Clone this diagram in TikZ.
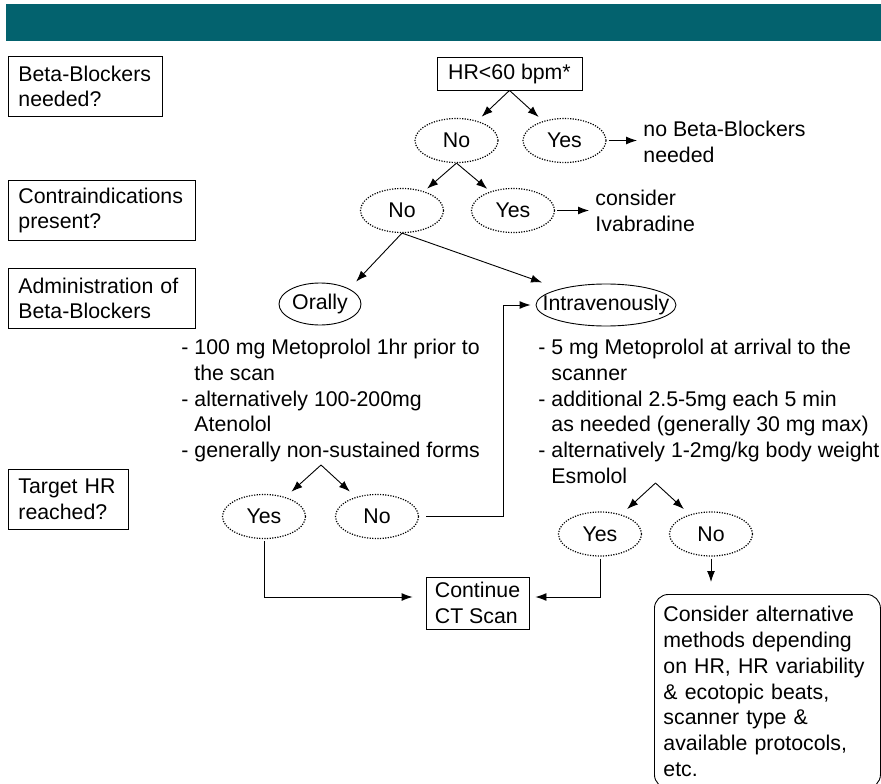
\documentclass[tikz,border=0pt]{standalone}
\usepackage{fontspec}
\setmainfont{Liberation Sans}
\usetikzlibrary{shapes.geometric,arrows.meta}
\definecolor{banner}{RGB}{3,98,110}
\newcommand{\dosecont}{\hphantom{-\ }}

\begin{document}
\begin{tikzpicture}[x=1pt, y=-1pt, line width=0.9pt,
  >={Latex[length=11pt,width=8pt]},
  every node/.style={font=\fontsize{21.3}{25.7}\selectfont, inner sep=0pt},
  question/.style={draw, anchor=north west, align=left, inner xsep=10pt, minimum height=60pt},
  answer/.style={draw, ellipse, line width=1.2pt, dash pattern=on 1.2pt off 1.4pt, minimum width=83pt, minimum height=44pt},
  route/.style={draw, ellipse, minimum height=42pt},
  dose/.style={anchor=north west, align=left}]

\useasboundingbox (0,0) rectangle (881,784);
\fill[banner] (6,4) rectangle (881,41);

\node[question, text width=134pt] (bbq) at (8,56) {Beta-Blockers\\needed?};
\node[question, text width=167pt] (ciq) at (8,180) {Contraindications\\present?};
\node[question, text width=167pt] (adq) at (8,268) {Administration of\\Beta-Blockers};
\node[question, text width=100pt] (thq) at (8,469) {Target HR\\reached?};

\node[draw, minimum width=145pt, minimum height=33pt] (hr) at (509.5,73.5) {HR<60 bpm*};
\node[answer] (no1) at (456.5,140.5) {\makebox[0pt]{No}};
\node[answer] (yes1) at (564.5,140.5) {\makebox[0pt]{Yes}};
\node[anchor=west, align=left] (nobb) at (643,142) {no Beta-Blockers\\needed};
\node[answer] (no2) at (402,210.5) {\makebox[0pt]{No}};
\node[answer] (yes2) at (513,210.5) {\makebox[0pt]{Yes}};
\node[anchor=west, align=left] (ivab) at (595,211) {consider\\Ivabradine};

\node[route, minimum width=82pt] (oral) at (320,304) {\makebox[0pt]{Orally}};
\node[route, minimum width=140pt] (iv) at (606,305) {\makebox[0pt]{Intravenously}};
\node[dose] (oraldose) at (181,339) {- 100 mg Metoprolol 1hr prior to\\\dosecont the scan\\- alternatively 100-200mg\\\dosecont Atenolol\\- generally non-sustained forms};
\node[dose] (ivdose) at (538,339) {- 5 mg Metoprolol at arrival to the\\\dosecont scanner\\- additional 2.5-5mg each 5 min\\\dosecont as needed (generally 30 mg max)\\- alternatively 1-2mg/kg body weight\\\dosecont Esmolol};

\coordinate (oralsplit) at (321,465);
\node[answer] (yes3) at (264,516.5) {\makebox[0pt]{Yes}};
\node[answer] (no3) at (377,516.5) {\makebox[0pt]{No}};
\coordinate (ivturn) at (503,516.5);
\node[draw, align=left, minimum width=103pt, minimum height=52pt] (ct) at (477.5,603) {Continue\\CT Scan};

\coordinate (ivsplit) at (655.5,483);
\node[answer] (yes4) at (600,534) {\makebox[0pt]{Yes}};
\node[answer] (no4) at (711,534) {\makebox[0pt]{No}};
\node[draw, rounded corners=14pt, anchor=north west, align=left, text width=208pt, inner xsep=9pt, minimum height=194pt] (alt) at (654,594) {Consider alternative\\methods depending\\on HR, HR variability\\\& ecotopic beats,\\scanner type \&\\available protocols,\\etc.};

\draw[->, shorten >=6pt] (hr.south) -- (no1);
\draw[->, shorten >=6pt] (hr.south) -- (yes1);
\draw[->, shorten <=2pt, shorten >=6pt] (yes1.east) -- (nobb.west |- yes1.east);
\draw[->, shorten >=4pt] (no1.south) -- (no2);
\draw[->, shorten >=4pt] (no1.south) -- (yes2);
\draw[->, shorten <=2pt, shorten >=6pt] (yes2.east) -- (ivab.west |- yes2.east);
\draw[->, shorten >=10pt] (no2.south) -- (oral.north east);
\draw[->, shorten >=19pt] (no2.south) -- (iv);

\draw[->, shorten >=8pt] (oralsplit) -- (yes3);
\draw[->, shorten >=8pt] (oralsplit) -- (no3);
\draw[->, shorten <=7pt, shorten >=5pt] (no3.east) -- (ivturn) |- (iv.west);
\draw[->, shorten <=2pt, shorten >=13pt] (yes3.south) |- ([yshift=6pt]ct.west);

\draw[->, shorten >=8pt] (ivsplit) -- (yes4);
\draw[->, shorten >=8pt] (ivsplit) -- (no4);
\draw[->, shorten <=2pt, shorten >=6pt] (yes4.south) |- ([yshift=6pt]ct.east);
\draw[->, shorten <=2pt, shorten >=12pt] (no4.south) -- (no4.south |- alt.north);
\end{tikzpicture}
\end{document}
